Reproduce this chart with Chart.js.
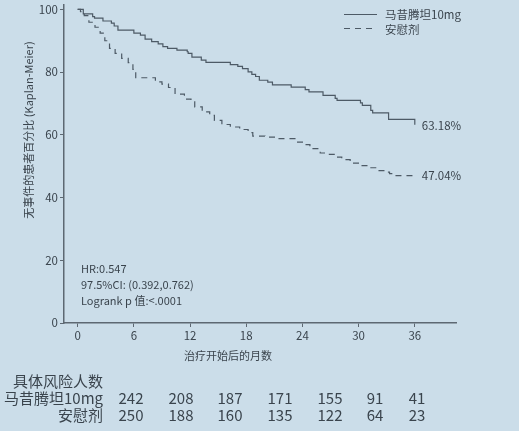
<!DOCTYPE html>
<html>
<head>
<meta charset="utf-8">
<script src="https://cdn.jsdelivr.net/npm/chart.js@4"></script>
<style>
  html, body { margin: 0; padding: 0; background: #cbdde9; }
  canvas { display: block; }
</style>
</head>
<body>
<canvas id="kmChart" width="519" height="431"></canvas>
<script>
// KM curves, months vs % event free
const drugName = '马昔腾坦10mg';
const placeboName = '安慰剂';

const drugTimes = [0, 0.6, 1.6, 1.8, 2.7, 3.6, 3.9, 4.3, 6.0, 6.7, 7.2, 7.9, 8.6, 9.1, 9.6, 10.6, 11.7, 11.8, 12.2, 13.2, 13.7,
  16.3, 17.1, 17.6, 18.2, 18.6, 19.0, 19.4, 20.3, 20.8, 22.8, 24.3, 24.7, 26.2, 27.5, 27.7, 30.2, 30.4, 31.3, 31.5, 33.2, 36.0];
const drugSurv = [100, 98.6, 97.7, 97.2, 96.3, 95.6, 94.7, 93.4, 92.4, 91.8, 90.5, 89.7, 89.0, 88.1, 87.6, 87.0, 86.5, 86.0, 84.8, 83.8, 83.1,
  82.4, 81.8, 81.1, 80.1, 79.3, 78.6, 77.4, 76.8, 75.9, 75.2, 74.4, 73.7, 72.6, 71.6, 71.0, 70.2, 69.4, 67.8, 67.0, 64.9, 63.2];

const placeboTimes = [0, 0.3, 0.7, 1.2, 1.85, 2.4, 2.9, 3.4, 4.0, 4.7, 5.4, 5.9, 6.2, 8.3, 9.0, 9.7, 10.4, 11.4, 12.1, 12.5, 13.3, 14.1,
  14.6, 15.4, 16.3, 17.3, 18.2, 18.7, 20.0, 21.1, 23.2, 24.0, 24.8, 25.9, 26.7, 27.5, 28.2, 29.1, 30.2, 31.0, 32.1, 32.8, 33.3, 34.0, 36.0];
const placeboSurv = [100, 99.3, 98.0, 95.9, 94.3, 92.4, 90.0, 87.6, 86.0, 84.4, 83.0, 80.9, 78.2, 76.9, 76.2, 75.1, 73.0, 71.4, 70.5, 68.9, 67.3, 66.2,
  64.6, 63.3, 62.5, 61.7, 60.7, 59.6, 59.3, 58.8, 57.7, 56.9, 55.6, 54.2, 53.8, 52.9, 52.1, 51.0, 50.2, 49.5, 48.6, 48.1, 47.6, 47.0, 47.0];

const endLabels = ['63.18%', '47.04%'];
const xTicks = [0, 6, 12, 18, 24, 30, 36];
const yTicks = [0, 20, 40, 60, 80, 100];

const riskTitle = '具体风险人数';
const riskDrug = [242, 208, 187, 171, 155, 91, 41];
const riskPlacebo = [250, 188, 160, 135, 122, 64, 23];

const statsLines = ['HR:0.547', '97.5%CI: (0.392,0.762)', 'Logrank p 值:<.0001'];

const FONT = '"Noto Sans CJK SC", "Noto Sans", sans-serif';
const textColor = '#3a444d';
const axisColor = '#5d6872';
const lineColor = '#4d5a66';
const bg = '#cbdde9';

// layout for the risk table columns (not data)
const riskCols = [131, 181, 230, 280, 330, 375, 417];

function toPoints(ts, vs) {
  return ts.map((t, i) => ({ x: t, y: vs[i] }));
}

function noPad(s) {
  s.paddingTop = 0; s.paddingBottom = 0; s.paddingLeft = 0; s.paddingRight = 0;
}

const extras = {
  id: 'extras',
  beforeDraw(chart) {
    const c = chart.ctx;
    c.save();
    c.fillStyle = bg;
    c.fillRect(0, 0, chart.width, chart.height);
    c.restore();
  },
  afterDraw(chart) {
    const c = chart.ctx;
    const xs = chart.scales.x, ys = chart.scales.y;
    c.save();
    c.fillStyle = textColor;

    // y title
    c.save();
    c.translate(29, 130);
    c.rotate(-Math.PI / 2);
    c.font = '11px ' + FONT;
    c.textAlign = 'center';
    c.textBaseline = 'middle';
    c.fillText('无事件的患者百分比 (Kaplan-Meier)', 0, 0);
    c.restore();

    // x title
    c.font = '11px ' + FONT;
    c.textAlign = 'center';
    c.textBaseline = 'middle';
    c.fillText('治疗开始后的月数', 228, 356);

    // end labels
    c.textAlign = 'left';
    c.font = '11.5px ' + FONT;
    const lastX = xs.getPixelForValue(36) + 7;
    c.fillText(endLabels[0], lastX, ys.getPixelForValue(drugSurv[drugSurv.length - 1]) + 0.5);
    c.fillText(endLabels[1], lastX, ys.getPixelForValue(placeboSurv[placeboSurv.length - 1]));

    // stats
    c.font = '11px ' + FONT;
    statsLines.forEach((s, i) => c.fillText(s, 81, 269 + i * 16));

    // legend
    c.strokeStyle = lineColor;
    c.lineWidth = 1.2;
    c.beginPath(); c.moveTo(344, 14.5); c.lineTo(377, 14.5); c.stroke();
    c.setLineDash([6, 5]);
    c.beginPath(); c.moveTo(344, 28.5); c.lineTo(377, 28.5); c.stroke();
    c.setLineDash([]);
    c.font = '11.5px ' + FONT;
    c.fillText(drugName, 385, 14.5);
    c.fillText(placeboName, 385, 30);

    // risk table
    c.font = '15px ' + FONT;
    c.textAlign = 'right';
    c.fillText(riskTitle, 103, 381);
    c.fillText(drugName, 103, 398);
    c.fillText(placeboName, 103, 415);
    c.textAlign = 'center';
    riskDrug.forEach((n, i) => c.fillText(String(n), riskCols[i], 398));
    riskPlacebo.forEach((n, i) => c.fillText(String(n), riskCols[i], 415));
    c.restore();
  }
};

new Chart(document.getElementById('kmChart'), {
  type: 'line',
  data: {
    datasets: [
      {
        label: drugName,
        data: toPoints(drugTimes, drugSurv),
        stepped: true,
        borderColor: lineColor,
        borderWidth: 1.2,
        pointRadius: 0,
        fill: false
      },
      {
        label: placeboName,
        data: toPoints(placeboTimes, placeboSurv),
        stepped: true,
        borderColor: lineColor,
        borderWidth: 1.2,
        borderDash: [6, 5],
        pointRadius: 0,
        fill: false
      }
    ]
  },
  options: {
    responsive: false,
    animation: false,
    layout: { padding: { left: 0, top: 5, right: 63, bottom: 84 } },
    plugins: {
      legend: { display: false },
      tooltip: { enabled: false }
    },
    scales: {
      x: {
        type: 'linear',
        min: -1.46,
        max: 40.4,
        afterBuildTicks: s => { s.ticks = xTicks.map(v => ({ value: v })); },
        afterFit: s => { s.height = 24; noPad(s); },
        ticks: { color: textColor, font: { family: FONT, size: 11.5 }, padding: 2, maxRotation: 0, autoSkip: false },
        grid: { drawOnChartArea: false, tickLength: 4, color: axisColor },
        border: { color: axisColor, width: 1.5 }
      },
      y: {
        min: 0,
        max: 101.4,
        afterBuildTicks: s => { s.ticks = yTicks.map(v => ({ value: v })); },
        afterFit: s => { s.width = 64; noPad(s); },
        ticks: { color: textColor, font: { family: FONT, size: 11.5 }, padding: 2 },
        grid: { drawOnChartArea: false, tickLength: 4, color: axisColor },
        border: { color: axisColor, width: 1.5 }
      }
    }
  },
  plugins: [extras]
});
</script>
</body>
</html>
